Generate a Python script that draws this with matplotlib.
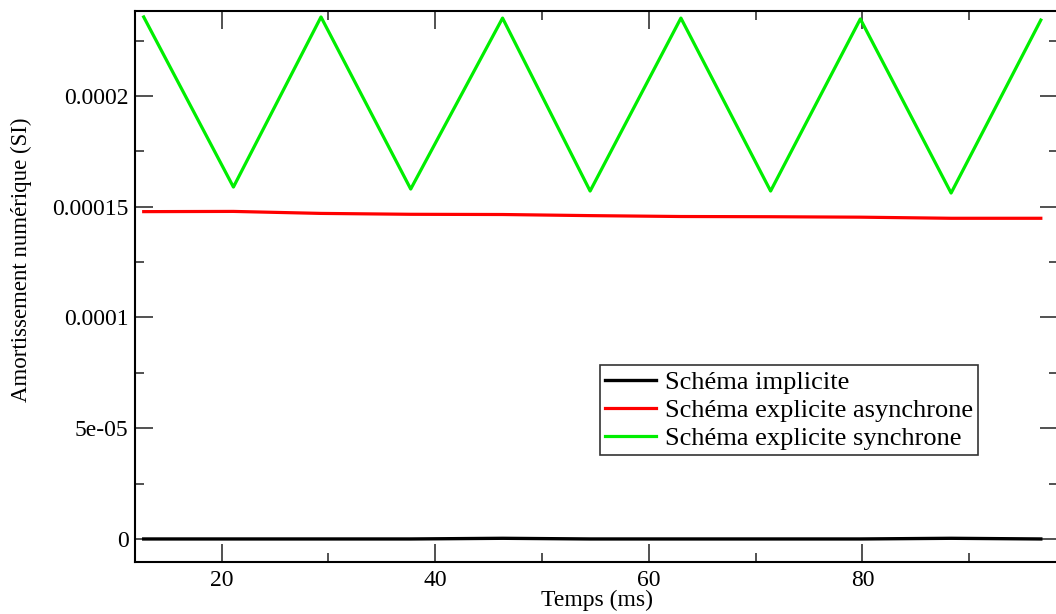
import numpy as np
import matplotlib.pyplot as plt
from matplotlib.ticker import MultipleLocator, FixedFormatter, FixedLocator

# temps (ms) aux sommets des courbes
temps = [12.7, 21.1, 29.3, 37.7, 46.3, 54.5, 63.0, 71.4, 79.8, 88.3, 96.7]

implicite = [0.0, 0.0, 0.0, 0.0, 3e-7, 0.0, 0.0, 0.0, 0.0, 3e-7, 0.0]
asynchrone = [1.478e-4, 1.479e-4, 1.470e-4, 1.466e-4, 1.465e-4, 1.460e-4,
              1.456e-4, 1.455e-4, 1.453e-4, 1.448e-4, 1.448e-4]
synchrone = [2.357e-4, 1.589e-4, 2.357e-4, 1.580e-4, 2.352e-4, 1.571e-4,
             2.352e-4, 1.571e-4, 2.348e-4, 1.562e-4, 2.343e-4]

yticks = [0, 5e-5, 1e-4, 1.5e-4, 2e-4]
ylabels = ["0", "5e-05", "0.0001", "0.00015", "0.0002"]

plt.rcParams['font.family'] = ['Liberation Serif', 'DejaVu Serif']

fig = plt.figure(figsize=(10.56, 6.14), dpi=100)
ax = fig.add_axes([0.1283, 0.0847, 0.8735, 0.8974])

ax.plot(temps, implicite, color='black', lw=2.4, label='Schéma implicite')
ax.plot(temps, asynchrone, color='#ff0000', lw=2.3, label='Schéma explicite asynchrone')
ax.plot(temps, synchrone, color='#00ee00', lw=2.3, label='Schéma explicite synchrone')

ax.set_xlim(11.93, 98.3)
ax.set_ylim(-1.04e-5, 2.384e-4)

ax.xaxis.set_major_locator(MultipleLocator(20))
ax.xaxis.set_minor_locator(MultipleLocator(10))
ax.yaxis.set_major_locator(FixedLocator(yticks))
ax.yaxis.set_major_formatter(FixedFormatter(ylabels))
ax.yaxis.set_minor_locator(MultipleLocator(2.5e-5))

ax.tick_params(which='both', direction='in', top=True, right=True,
               colors='#333333', labelcolor='black', labelsize=17, width=1.2)
ax.tick_params(which='major', length=13)
ax.tick_params(which='minor', length=6.5)
ax.tick_params(axis='y', which='major', pad=5)
ax.tick_params(axis='x', which='major', pad=6)
for s in ax.spines.values():
    s.set_linewidth(1.5)

ax.set_xlabel('Temps (ms)', fontsize=17, labelpad=-1)
ax.set_ylabel('Amortissement numérique (SI)', fontsize=16.5)
ax.yaxis.set_label_coords(-0.1125, 0.548)

leg = ax.legend(loc='upper left', bbox_to_anchor=(0.5038, 0.3575), fontsize=19,
                frameon=True, fancybox=False, edgecolor='black',
                borderaxespad=0, handlelength=1.9, borderpad=0.2,
                labelspacing=0.18, handletextpad=0.35)
leg.get_frame().set_linewidth(1.2)

fig.savefig('out.png', dpi=100)
